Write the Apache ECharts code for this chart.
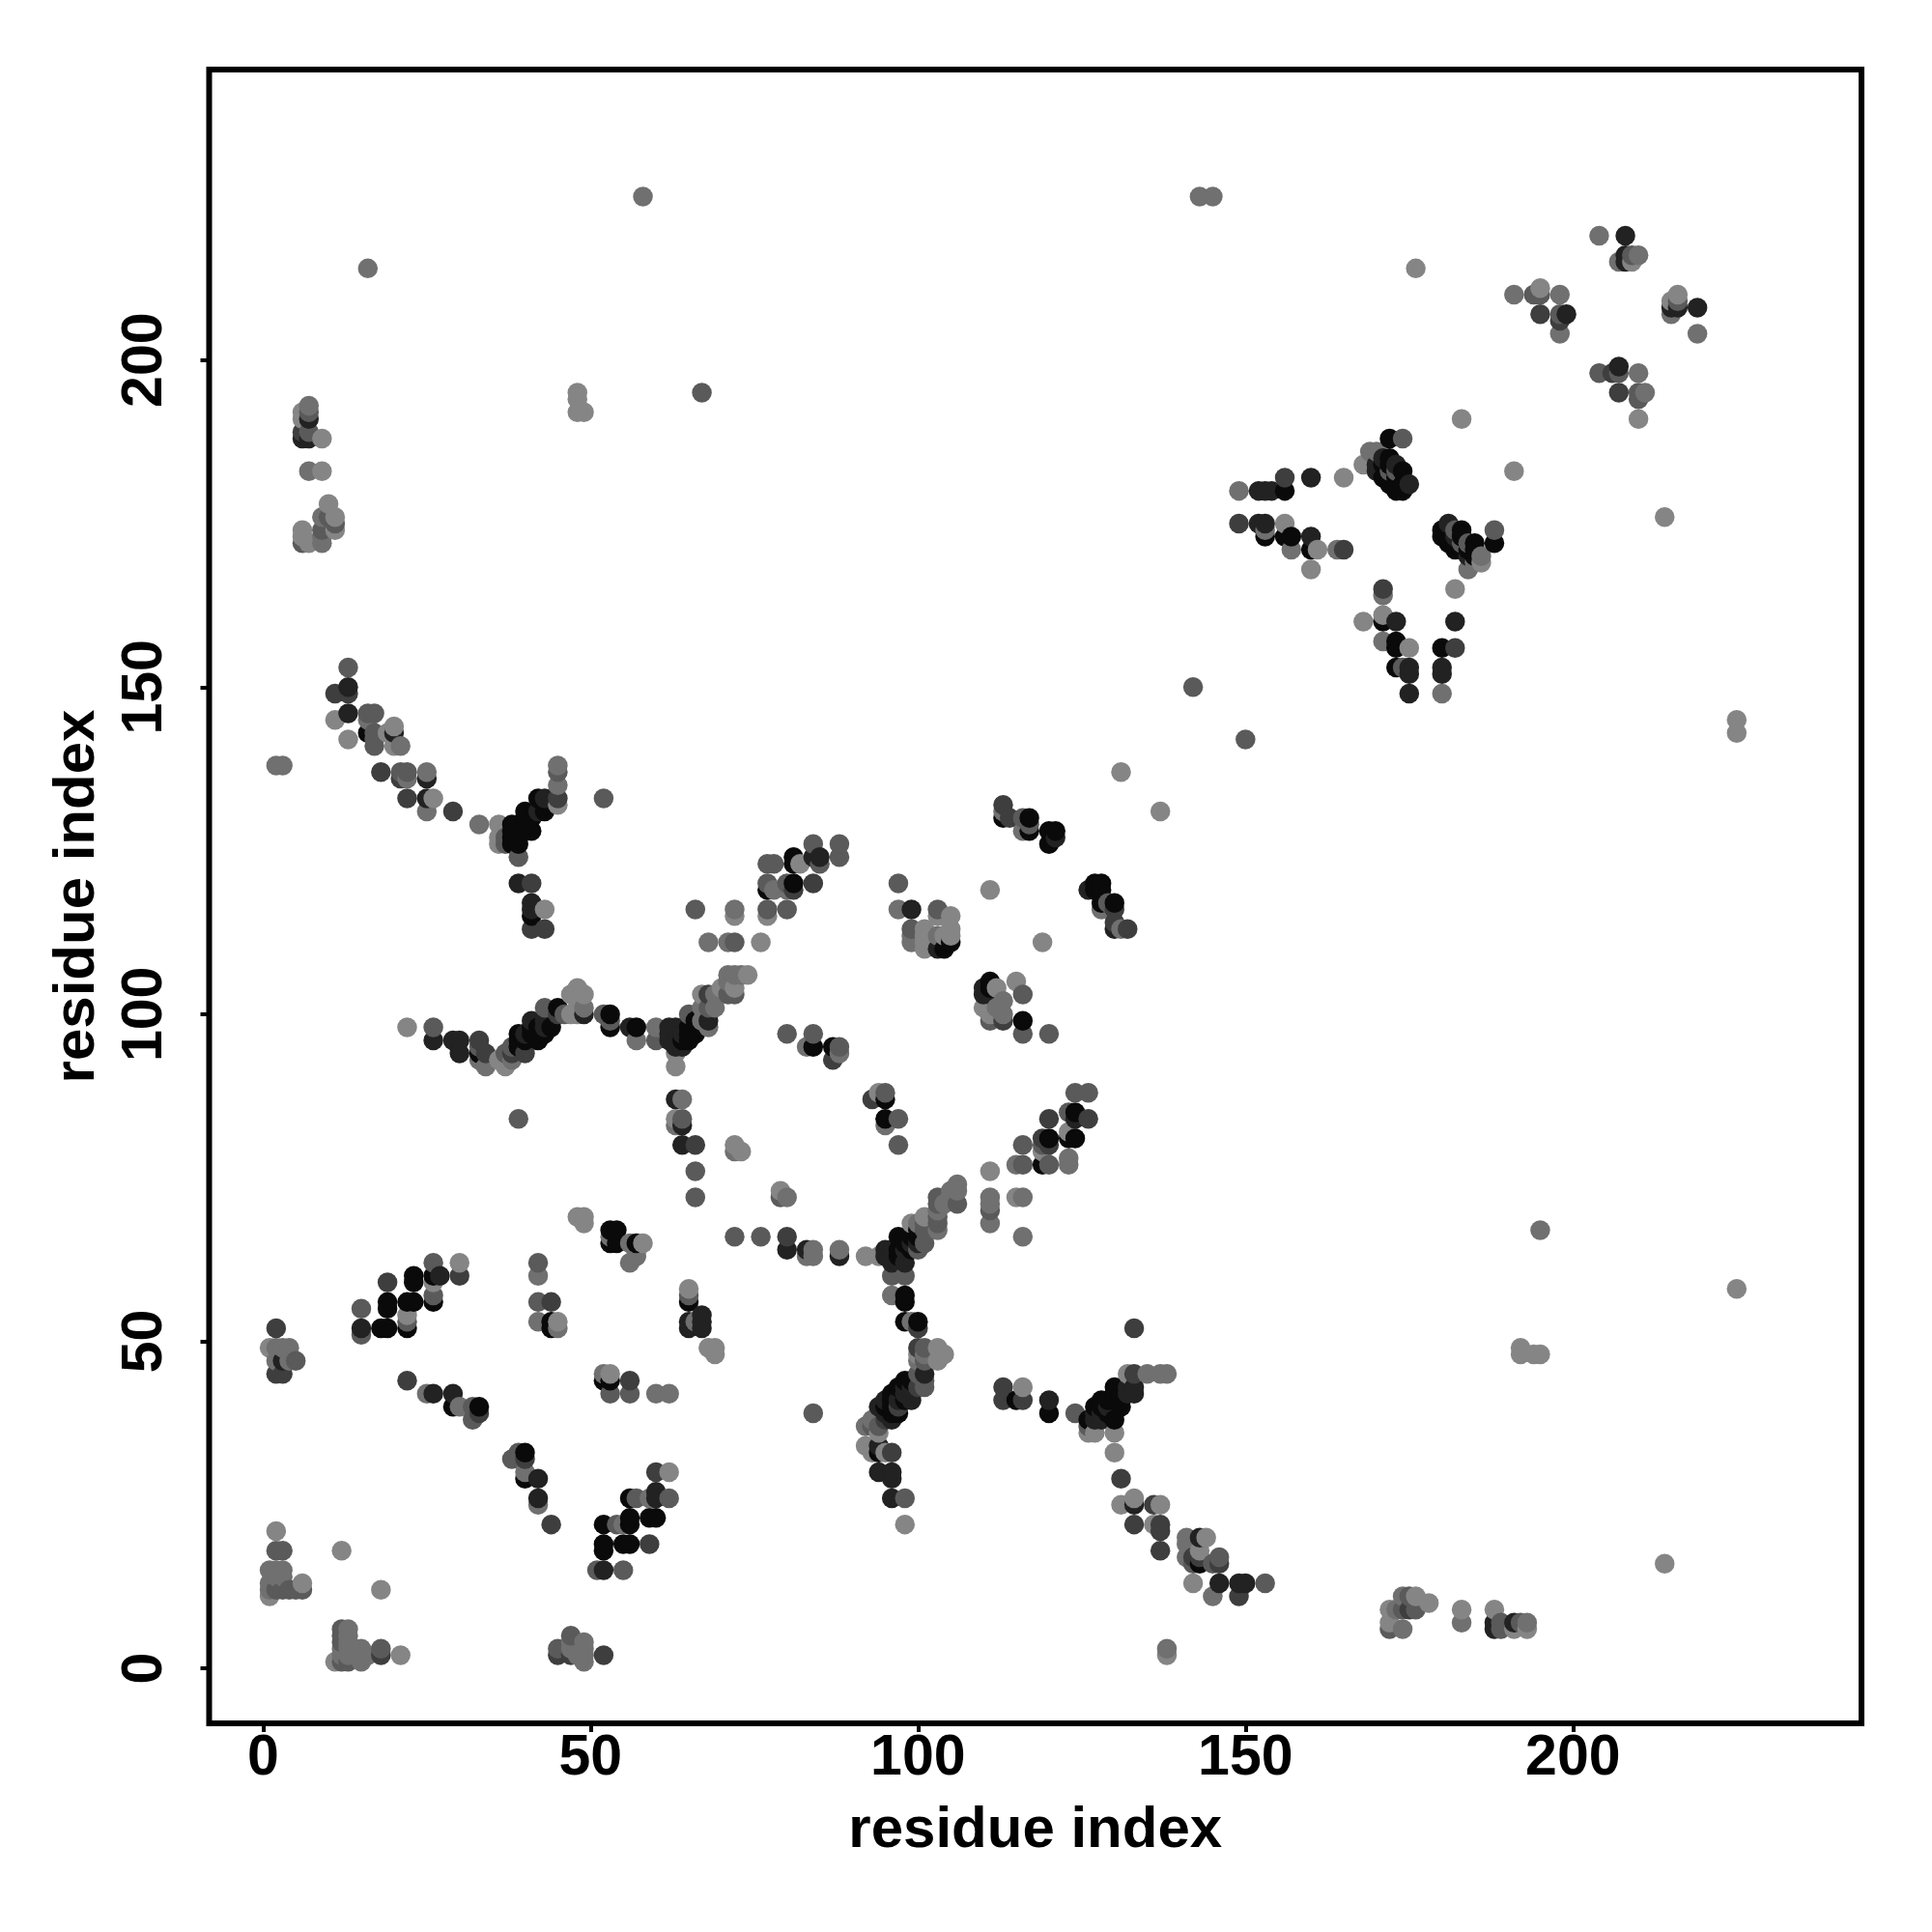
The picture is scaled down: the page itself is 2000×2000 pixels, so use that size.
<!DOCTYPE html>
<html><head><meta charset="utf-8">
<style>html,body{margin:0;padding:0;background:#fff}#c{width:2000px;height:2000px}</style>
<script src="https://cdn.jsdelivr.net/npm/echarts@6/dist/echarts.min.js"></script>
</head><body><div id="c"></div>
<script>
const tickValues = [0, 50, 100, 150, 200];
const axisTitle = 'residue index';
const shades = ['#0a0a0a', '#222222', '#3e3e3e', '#5a5a5a', '#707070', '#858585'];
// [x, y, shade index]
const lowerLeft = [
[2,52,2],[1,49,5],[2,49,4],[3,49,4],[4,49,4],[2,47,4],[3,47,1],[4,47,4],[5,47,3],[2,45,2],[3,45,2],
[15,55,3],[15,52,1],[15,51,3],[18,52,0],[19,52,0],[19,56,0],[19,55,0],[19,59,2],[22,52,0],[22,53,3],[22,54,5],[22,56,0],[23,56,0],[23,59,0],[23,60,0],
[26,56,0],[26,57,3],[26,59,5],[26,60,0],[27,60,1],[26,62,3],[30,60,2],[30,62,5],
[42,62,3],[42,60,4],[42,56,3],[44,56,2],[42,53,4],[44,52,0],[44,53,0],[45,53,5],[45,52,4],
[48,69,5],[49,69,5],[49,68,5],[53,67,0],[54,67,0],[53,65,0],[54,65,0],[53,66,4],[56,65,4],[57,65,0],[58,65,5],[57,63,4],[56,62,4],
[22,44,2],[25,42,4],[26,42,1],[29,42,1],[29,40,0],[30,40,4],[32,40,3],[33,40,0],[33,39,2],[32,38,3],
[38,32,3],[39,33,3],[40,33,0],[40,32,2],[40,30,4],[40,29,0],[42,29,1],[42,26,1],[42,25,4],[44,22,2],
[52,45,4],[53,45,5],[53,44,0],[52,44,0],[56,44,2],[56,42,3],[53,42,3],[60,42,4],[62,42,4],
[60,30,2],[62,30,5],[60,27,1],[60,26,1],[56,26,0],[57,26,3],[59,26,4],[62,26,3],[59,23,0],[60,23,0],[56,23,0],[56,22,0],[54,22,3],[52,22,0],[55,22,4],
[52,19,0],[52,18,0],[55,19,0],[56,19,0],[59,19,2],[51,15,3],[52,15,1],[55,15,3],
[2,21,5],[2,18,3],[3,18,3],[1,15,4],[2,15,4],[3,15,4],[2,14,4],[3,14,4],[1,13,4],[1,12,4],[1,11,5],[2,12,3],[3,12,3],[4,12,3],[5,12,3],[6,12,3],[6,13,5],
[12,18,5],[18,12,5],[12,6,3],[13,6,4],[12,5,3],[13,5,4],[12,4,3],[13,4,4],[12,3,4],[13,3,4],[12,2,4],[13,2,4],[14,3,4],[15,3,4],[15,2,4],[15,1,4],[11,1,5],[12,1,3],[13,1,3],[14,2,4],[16,2,4],[18,3,3],[18,2,2],[21,2,5],
[45,3,3],[45,2,2],[47,5,3],[47,3,4],[47,2,2],[47,4,4],[49,4,4],[49,3,4],[49,2,4],[49,1,4],[48,2,4],[52,2,2]
];
const lowerMiddle = [
[72,66,3],[76,66,3],[80,66,2],[80,64,1],[83,64,1],[84,64,4],[84,63,4],[83,63,4],[88,64,4],[88,63,1],[92,63,5],[94,63,5],
[95,63,1],[95,64,1],[96,63,1],[97,66,0],[98,62,1],[96,62,1],[96,60,3],[98,60,3],[96,57,4],[98,57,0],[98,56,0],[98,53,0],[99,53,4],[100,53,0],[100,52,2],
[100,49,2],[101,49,3],[103,49,5],[104,48,5],[103,47,5],[100,48,5],[100,47,4],[101,48,4],[101,47,3],[101,45,1],[100,45,3],[101,44,3],[101,43,3],[98,44,0],[100,43,2],[96,42,0],[98,43,1],[99,41,1],[98,42,1],
[94,40,1],[95,40,0],[96,39,0],[97,40,2],[97,39,0],[92,37,4],[93,38,4],[94,36,5],[93,37,3],[94,37,3],[92,34,5],[93,33,5],[94,34,1],[94,33,0],[95,33,5],[96,33,2],[94,30,1],[96,30,1],[96,29,1],[96,26,1],[98,26,3],[98,22,5],
[99,68,5],[100,66,0],[100,65,1],[100,67,0],[101,69,5],[101,67,3],[101,65,3],[100,64,3],[103,70,4],[103,69,3],[103,68,3],[103,67,4],
[65,58,5],[65,56,0],[65,57,3],[65,53,1],[67,53,1],[66,53,4],[67,52,1],[65,52,1],[67,54,1],[68,49,5],[69,49,5],[69,48,5],[84,39,3],[111,68,4],[111,70,3],[116,66,4],
[113,41,2],[113,43,2],[116,43,5],[115,41,0],[116,41,2],[120,41,1],[120,39,0],[124,39,3],[126,38,0],[127,39,1],[128,39,1],[128,41,0],[130,43,0],[131,42,0],[131,40,0],[133,42,1],[133,43,1],[133,45,2],[132,45,5],[135,45,4],[137,45,4],[138,45,4],
[126,36,5],[127,36,5],[126,37,3],[130,36,5],[130,33,5],[130,38,0],[128,38,1],[129,40,1],[133,52,2]
];
const lowerRight = [
[131,29,2],[131,25,5],[133,26,5],[133,25,1],[136,25,2],[137,25,5],[133,22,2],[136,22,5],[137,22,2],[137,21,2],[137,18,2],
[141,20,4],[141,19,4],[143,20,1],[144,20,5],[143,18,5],[141,17,4],[142,17,2],[143,17,2],[142,16,3],[143,16,0],[146,17,3],[146,16,2],[145,16,3],
[142,13,5],[146,13,1],[149,13,1],[150,13,1],[153,13,3],[145,11,4],[149,11,2],[138,3,4],[138,2,5],
[195,67,4],[225,58,5],[192,49,5],[192,48,5],[194,48,5],[195,48,5],[214,16,5],
[172,9,5],[174,9,3],[174,11,4],[175,11,3],[176,11,5],[178,10,5],[175,9,2],[176,9,3],[173,9,4],[172,7,5],[172,6,3],[174,6,4],
[183,9,5],[183,7,4],[188,9,5],[188,7,1],[188,6,1],[189,6,3],[189,7,3],[191,7,1],[191,6,5],[192,7,3],[193,6,5],[193,7,4]
];
const middleLeft = [
[22,133,2],[25,133,1],[26,133,5],[25,131,4],[29,131,2],[33,129,4],[36,129,5],[36,127,5],[36,126,5],[37,127,3],[37,126,3],[38,129,0],[38,128,0],[38,127,0],[38,126,0],[39,126,0],[40,131,0],[40,130,0],[40,128,0],[41,128,0],[41,130,0],[42,133,0],[42,131,1],[43,133,1],[43,131,0],[39,124,3],[52,133,3],
[39,120,1],[41,120,2],[41,117,1],[41,116,1],[41,115,0],[43,116,5],[41,113,2],[43,113,2],
[48,104,5],[47,103,5],[49,103,5],[22,98,5],[26,98,3],[26,96,1],[29,96,1],[30,96,1],[30,94,1],[33,96,2],[33,95,3],[33,94,0],[34,94,2],[33,93,4],[34,92,4],[36,93,5],[37,94,3],[37,92,5],[38,93,4],[38,94,2],[38,95,3],
[39,97,0],[39,96,0],[39,95,0],[40,94,2],[41,99,1],[41,97,0],[42,96,0],[42,98,0],[43,98,1],[44,98,0],[43,101,3],[45,101,0],[45,100,2],[46,100,3],[47,100,5],[48,100,5],[48,101,5],[49,101,4],[49,100,1],
[52,100,3],[53,100,0],[53,98,0],[53,99,3],[56,98,1],[57,98,0],[57,96,4],[60,96,3],[60,98,4],[62,98,1],[62,97,1],[62,96,1],[63,95,1],[64,95,1],[64,97,1],[65,96,0],[65,100,3],[66,99,0],[66,98,0],[63,94,5],[63,92,5],
[63,87,1],[64,87,4],[63,84,5],[64,84,3],[64,83,1],[63,83,4],[64,80,1],[66,80,2],[66,76,3],[66,72,3],[39,84,3]
];
const middleCentre = [
[113,132,2],[113,130,0],[113,131,4],[114,130,2],[116,130,3],[117,130,0],[116,128,4],[117,128,0],[117,129,3],[120,128,0],[121,128,0],[120,126,0],[121,127,1],
[127,120,0],[128,120,0],[126,119,1],[128,119,0],[127,119,0],[128,116,4],[128,117,0],[130,117,0],[129,117,3],[130,116,2],[130,114,2],[130,113,1],[131,113,4],[132,113,2],
[84,126,3],[88,126,3],[88,124,3],[85,124,1],[84,124,1],[85,123,3],[77,123,3],[78,123,3],[81,124,0],[81,123,0],[82,123,5],[77,120,3],[77,119,0],[78,119,4],[80,120,3],[81,120,0],[81,119,2],[80,119,4],[84,120,2],
[66,116,3],[72,116,4],[72,115,5],[77,116,3],[77,115,5],[80,116,3],[68,111,4],[71,111,4],[72,111,3],[76,111,5],
[97,120,3],[97,116,4],[99,116,1],[103,116,3],[105,115,5],[103,115,5],[99,113,3],[99,111,4],[99,112,4],[101,113,5],[101,110,5],[101,112,5],[101,111,5],[103,112,4],[104,112,5],[103,110,1],[104,110,0],[105,111,0],[105,112,5],[105,113,5],
[111,119,5],[119,111,5],[131,137,5],[137,131,5],
[111,105,0],[111,104,0],[111,103,1],[110,103,1],[110,104,1],[115,105,5],[116,103,3],[112,104,5],[113,102,4],[113,100,4],[110,101,5],[111,100,5],[111,99,3],[113,99,2],[116,99,0],[116,97,3],[120,97,3],[112,101,4],[112,100,5],
[74,106,5],[72,106,4],[71,106,4],[73,106,4],[72,104,5],[71,105,4],[72,103,3],[71,103,3],[70,104,5],[69,103,4],[68,103,2],[67,103,5],[69,101,4],[68,101,3],[67,101,4],[68,99,1],[68,98,4],[67,99,4],[66,97,0],[65,98,0],
[80,97,3],[84,97,3],[83,95,4],[84,95,0],[87,95,0],[88,95,3],[88,94,4],[87,93,2],[93,87,2],[94,88,5],[95,88,3],[95,87,0],[95,84,0],[97,84,3],[95,83,4],[97,80,3],
[72,80,5],[73,79,5],[72,79,4],[79,73,5],[80,72,4],[79,72,3],
[124,88,3],[126,88,3],[123,85,3],[124,85,0],[124,84,1],[126,84,2],[120,84,2],[123,82,5],[123,81,0],[124,81,0],[119,81,2],[120,81,0],[120,80,2],[119,80,3],[116,80,3],[119,79,5],[119,77,0],[120,77,3],[115,77,4],[116,77,3],[123,78,4],[123,77,4],
[111,76,5],[111,72,4],[111,71,4],[115,72,5],[116,72,4],[106,74,4],[106,73,4],[106,71,3],[105,73,4],[105,72,4],[103,72,3],[103,71,3],[104,71,4],[103,70,4],[101,68,3],[100,68,4]
];
const upperRight = [
[142,150,3],[150,142,3],[183,191,5],[191,183,5],[172,188,0],[174,188,3],[169,186,4],[170,186,4],[168,184,5],[171,185,1],[172,185,0],[170,184,1],[171,184,0],[170,183,1],[171,182,0],[172,183,3],[173,183,3],[174,183,0],[173,180,0],[174,180,0],[175,181,1],[174,181,0],[173,182,0],
[165,182,5],[160,182,1],[156,182,2],[156,180,0],[152,180,1],[153,180,1],[154,180,1],[149,180,4],[149,175,2],[152,175,1],[153,175,1],[153,174,4],[153,173,0],[156,175,5],[156,173,0],[157,173,0],[157,171,4],[160,173,1],[160,171,0],[161,171,5],[160,168,5],[164,171,4],[165,171,2],
[181,175,1],[180,174,0],[180,173,0],[182,174,3],[183,174,0],[182,171,0],[183,172,3],[183,171,0],[185,172,0],[184,172,3],[184,170,1],[188,174,3],[188,172,0],[186,170,4],[186,169,5],[185,169,4],[184,168,4],
[182,165,5],[171,165,2],[171,164,4],[171,161,5],[168,160,5],[171,160,0],[173,160,1],[182,160,1],[171,157,4],[173,157,0],[173,156,0],[175,156,5],[180,156,0],[182,156,2],[173,153,0],[174,153,3],[175,153,1],[175,152,1],[180,153,1],[180,152,1],[175,149,1],[180,149,4],
[204,219,4],[208,219,1],[207,215,4],[208,216,1],[208,215,1],[209,216,3],[209,215,5],[210,216,4],
[191,210,4],[194,210,3],[195,210,3],[195,211,5],[198,210,4],[195,207,2],[198,207,3],[199,207,1],[198,206,2],[198,204,4],
[216,210,5],[215,209,5],[216,209,3],[215,208,1],[216,208,1],[215,207,4],[219,208,1],[219,204,4],
[204,198,3],[206,198,2],[207,198,3],[207,199,1],[210,198,4],[207,195,2],[210,195,3],[211,195,4],[210,194,3],[210,191,5],
[214,176,5],[225,145,5],[225,143,5],[176,214,5],[58,225,4],[143,225,4],[145,225,4],[16,214,4],[67,195,3]
];
const upperLeft = [
[48,195,5],[48,194,5],[48,192,5],[49,192,5],[7,193,4],[7,192,3],[6,192,5],[7,191,1],[6,191,5],[6,189,2],[7,189,3],[6,188,1],[7,188,1],[9,188,5],[7,183,4],[9,183,5],
[10,178,5],[9,176,4],[10,176,3],[11,176,5],[9,174,3],[11,175,3],[11,174,5],[6,174,5],[6,173,5],[6,172,3],[7,172,5],[9,172,4],[9,173,4],
[13,153,3],[13,150,1],[13,149,2],[11,149,2],[13,146,1],[11,145,5],[13,142,5],[16,146,3],[17,146,3],[16,145,4],[16,143,0],[17,143,3],[17,142,3],[17,141,3],[19,143,5],[20,144,5],[20,143,1],[20,141,5],[21,141,4],
[18,137,2],[21,137,3],[22,137,3],[21,136,2],[22,136,4],[25,137,4],[25,136,1],[2,138,4],[3,138,4],[45,138,4],[45,137,3],[45,135,4],[45,133,2],[45,132,5]
];
const denseBands = [
[96,64,1],[97,64,0],[97,63,0],[98,64,1],[98,65,0],[99,66,0],[99,65,1],[97,62,1],[99,64,0],
[127,38,1],[127,40,0],[128,40,0],[129,39,0],[129,41,0],[130,41,0],[130,42,0],[131,41,0],[132,43,1],[132,42,1],
[63,97,1],[63,98,1],[64,96,0],[65,97,0],
[172,184,0],[172,182,0],[173,181,0],[173,184,1],[172,181,0],
[181,173,0],[181,172,0],[182,172,0],[182,173,1],[183,173,0],[184,171,0],[185,170,0],[185,171,0],
[40,96,0],[40,97,1],[41,98,0],[43,99,1],[43,97,0],
[95,41,1],[96,41,0],[96,40,0],[97,41,1],[97,43,0],[98,41,0],[99,43,1],[99,44,0],[95,38,2],[96,38,1],[95,39,1]
];

const allPoints = [].concat(lowerLeft, lowerMiddle, lowerRight, middleLeft, middleCentre, upperRight, upperLeft, denseBands)
  .slice().sort((a, b) => a[0] - b[0] || a[1] - b[1]);

const font = '"Liberation Sans", Arial, sans-serif';
function axis(isY) {
  return {
    type: 'value',
    min: isY ? -8.4 : -8.23,
    max: isY ? 244.4 : 244.05,
    splitLine: { show: false },
    axisLine: { show: false, onZero: false },
    axisTick: { show: true, length: 9, lineStyle: { color: '#000', width: 4 }, customValues: tickValues },
    axisLabel: {
      customValues: tickValues, color: '#000', fontFamily: font, fontWeight: 'bold', fontSize: 59,
      margin: isY ? 36 : 7, rotate: isY ? 90 : 0,
      verticalAlign: isY ? 'bottom' : 'top', align: 'center',
      showMinLabel: true, showMaxLabel: true
    },
    name: axisTitle, nameLocation: 'middle', nameGap: isY ? 106 : 81, nameRotate: isY ? 90 : 0,
    nameTextStyle: { color: '#000', fontFamily: font, fontWeight: 'bold', fontSize: 60 }
  };
}
const chart = echarts.init(document.getElementById('c'), null, { renderer: 'canvas' });
chart.setOption({
  animation: false,
  backgroundColor: '#fff',
  grid: { left: 216.5, right: 73, top: 72, bottom: 216, show: true, borderColor: '#000', borderWidth: 6, backgroundColor: 'transparent' },
  xAxis: axis(false),
  yAxis: axis(true),
  series: [{
    type: 'scatter',
    symbol: 'circle',
    symbolSize: 20.5,
    large: false,
    data: allPoints,
    encode: { x: 0, y: 1 },
    itemStyle: { opacity: 1, color: p => shades[p.value[2]] }
  }]
});
</script></body></html>
